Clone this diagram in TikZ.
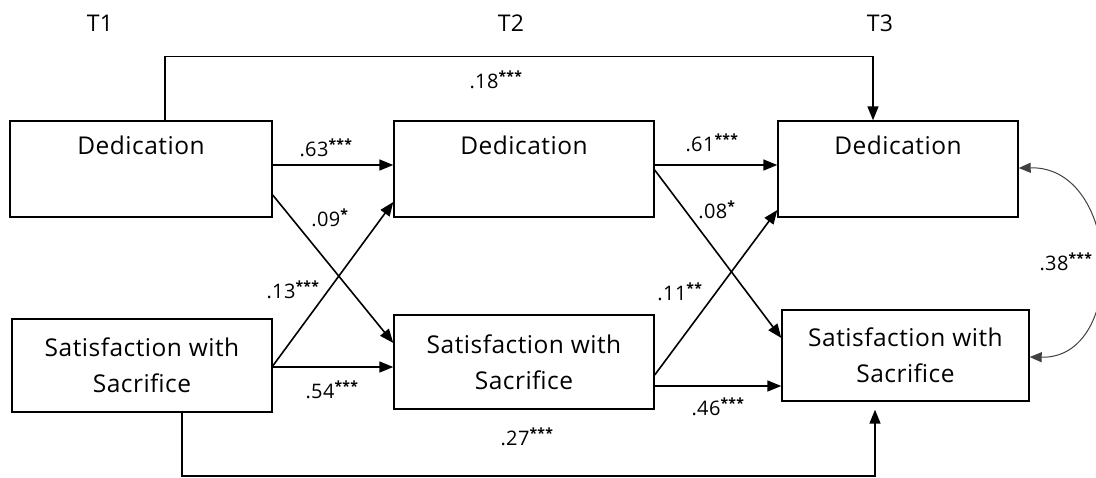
\documentclass[tikz,border=0pt]{standalone}
\usepackage{fontspec}
\setmainfont{Open Sans}[LetterSpace=2]
\usetikzlibrary{arrows.meta}

\begin{document}
\begin{tikzpicture}[x=1pt, y=-1pt,
		box/.style={rectangle, draw, line width=1.4pt, align=center, inner sep=0pt, font=\fontsize{24.5}{36}\selectfont},
		coef/.style={inner sep=0pt, font=\fontsize{20}{22}\selectfont},
		arr/.style={-{Triangle[length=14pt,width=11pt]}, line width=1.6pt}]
			\useasboundingbox (0,0) rectangle (1096,477);
			% time points
			\draw (100,23) node [font=\fontsize{23}{24}\selectfont] (t1) {T1};
			\draw (511,23) node [font=\fontsize{23}{24}\selectfont] (t2) {T2};
			\draw (880,23) node [font=\fontsize{23}{24}\selectfont] (t3) {T3};
			% constructs
			\draw (141,169) node [box, minimum width=262pt, minimum height=96pt] (d1) {Dedication\\\strut};
			\draw (524,169) node [box, minimum width=260pt, minimum height=96pt] (d2) {Dedication\\\strut};
			\draw (898,169) node [box, minimum width=240pt, minimum height=96pt] (d3) {Dedication\\\strut};
			\draw (142,365.5) node [box, minimum width=260pt, minimum height=93pt] (s1) {Satisfaction with\\Sacrifice};
			\draw (524,362) node [box, minimum width=260pt, minimum height=94pt] (s2) {Satisfaction with\\Sacrifice};
			\draw (905.5,355.5) node [box, minimum width=247pt, minimum height=91pt] (s3) {Satisfaction with\\Sacrifice};
			% stability paths
			\path [arr] ([yshift=4pt]d1.east) edge ([yshift=4pt]d2.west);
			\path [arr] ([yshift=4pt]d2.east) edge ([yshift=4pt]d3.west);
			\path [arr] ([yshift=-1.5pt]s1.east) edge ([yshift=-5pt]s2.west);
			\path [arr] ([yshift=-24pt]s2.east) edge ([yshift=-30.5pt]s3.west);
			% cross-lagged paths
			\path [arr] ([yshift=-26pt]d1.east) edge ([yshift=19pt]s2.west);
			\path [arr] ([yshift=-0.5pt]s1.east) edge ([yshift=-33pt]d2.west);
			\path [arr] ([yshift=-1pt]d2.east) edge ([yshift=17.5pt]s3.west);
			\path [arr] ([yshift=-13pt]s2.east) edge ([yshift=-41pt]d3.west);
			% T1 to T3
			\draw [arr] ([xshift=24pt]d1.north) -- ++(0,-64) -| ([xshift=-25pt]d3.north);
			\draw [arr, shorten >=8pt] ([xshift=40pt]s1.south) -- ++(0,63) -| ([xshift=-30.5pt]s3.south);
			% correlation at T3
			\draw [{Triangle[length=12pt,width=10pt]}-{Triangle[length=12pt,width=10pt]}, line width=1pt, black!75] ([yshift=1pt]d3.east) .. controls (1122,166) and (1128,359) .. ([yshift=-1.5pt]s3.east);
			% coefficients
			\draw (496,80) node [coef] (c18) {.18\textsuperscript{\bfseries ***}};
			\draw (326,148) node [coef] (c63) {.63\textsuperscript{\bfseries ***}};
			\draw (712,143) node [coef] (c61) {.61\textsuperscript{\bfseries ***}};
			\draw (330,218) node [coef] (c09) {.09\textsuperscript{\bfseries *}};
			\draw (717,210) node [coef] (c08) {.08\textsuperscript{\bfseries *}};
			\draw (293,290) node [coef] (c13) {.13\textsuperscript{\bfseries ***}};
			\draw (680,292) node [coef] (c11) {.11\textsuperscript{\bfseries **}};
			\draw (332,390) node [coef] (c54) {.54\textsuperscript{\bfseries ***}};
			\draw (718,407) node [coef] (c46) {.46\textsuperscript{\bfseries ***}};
			\draw (527,437) node [coef] (c27) {.27\textsuperscript{\bfseries ***}};
			\draw (1066,262) node [coef] (c38) {.38\textsuperscript{\bfseries ***}};
		\end{tikzpicture}
\end{document}
